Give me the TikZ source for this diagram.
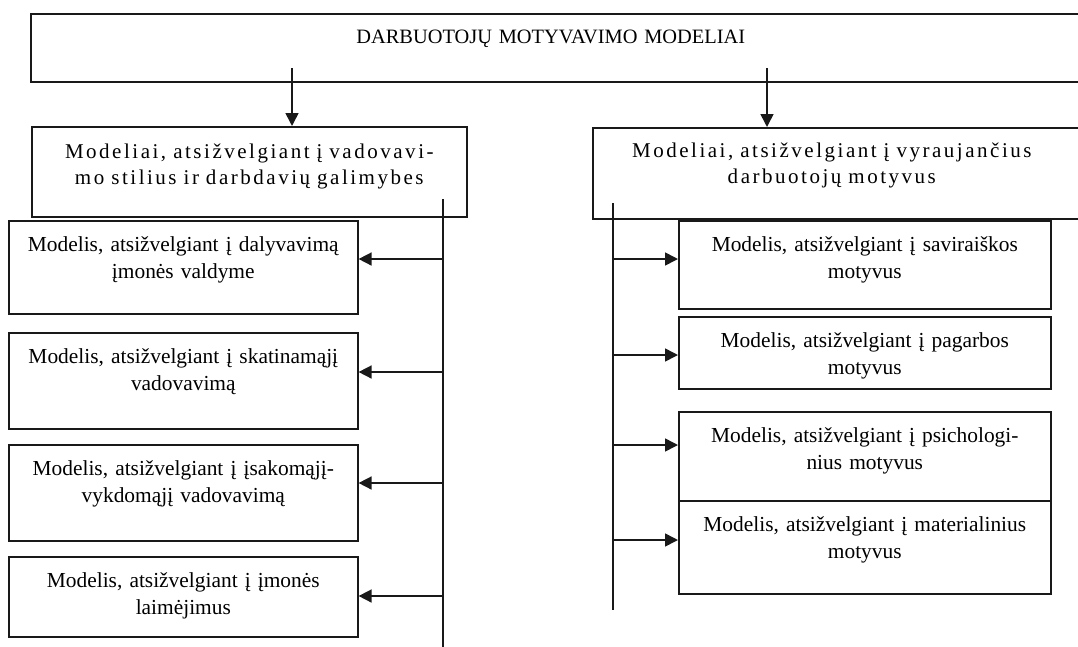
\documentclass[tikz,border=0pt]{standalone}
\usepackage{fontspec}
\setmainfont{Liberation Serif}
\usetikzlibrary{arrows.meta}
\begin{document}
\begin{tikzpicture}[x=1pt,y=-1pt,
  frame/.style={draw=black!90, line width=1.6pt, inner xsep=0pt, inner ysep=0pt,
    align=center, anchor=north west},
  kid/.style 2 args={frame, text width=#1, text height=31pt, text depth=#2,
    font=\fontsize{21.4}{27}\selectfont},
  group/.style n args={3}{frame, text width=#1, text height=#2, text depth=#3,
    font=\fontsize{21}{26}\selectfont\addfontfeatures{LetterSpace=12}},
  wire/.style={draw=black!90, line width=1.6pt},
  arr/.style={wire, -{Triangle[length=13pt,width=13pt]}}
]
\path[use as bounding box, clip] (0,0) rectangle (1078,646);

% title box (runs past the right border; text set a little left of centre)
\node[frame, text width=1060, text height=30pt, text depth=38pt,
  font=\fontsize{20.4}{24}\selectfont] (root) at (30,13)
  {\hspace*{-20pt}DARBUOTOJŲ MOTYVAVIMO MODELIAI};

% the two groups of models
\node[group={435}{32pt}{58pt}] (gL) at (31,126)
  {Modeliai, atsižvelgiant į vadovavi-\\mo stilius ir darbdavių galimybes};
\node[group={498}{30pt}{61pt}] (gR) at (592,127)
  {\hspace*{-20pt}Modeliai, atsižvelgiant į vyraujančius\\\hspace*{-20pt}darbuotojų motyvus};

\coordinate (dL) at (292,68);
\coordinate (dR) at (767,68);
\draw[arr] (dL) -- (dL |- gL.north);
\draw[arr] (dR) -- (dR |- gR.north);

% left column
\node[kid={349}{62pt}] (L1) at (8,220)
  {Modelis, atsižvelgiant į dalyvavimą\\įmonės valdyme};
\node[kid={349}{65pt}] (L2) at (8,332)
  {Modelis, atsižvelgiant į skatinamąjį\\vadovavimą};
\node[kid={349}{65pt}] (L3) at (8,444)
  {Modelis, atsižvelgiant į įsakomąjį-\\vykdomąjį vadovavimą};
\node[kid={349}{49pt}] (L4) at (8,556)
  {Modelis, atsižvelgiant į įmonės\\laimėjimus};

% right column
\node[kid={372}{57pt}] (R1) at (678,220)
  {Modelis, atsižvelgiant į saviraiškos\\motyvus};
\node[kid={372}{41pt}] (R2) at (678,316)
  {Modelis, atsižvelgiant į pagarbos\\motyvus};
\node[kid={372}{58pt}] (R3) at (678,411)
  {Modelis, atsižvelgiant į psichologi-\\nius motyvus};
\node[kid={372}{62pt}] (R4) at (678,500)
  {Modelis, atsižvelgiant į materialinius\\motyvus};

% left spine and its branches
\coordinate (sLt) at (443,199);
\coordinate (sLb) at (443,650);
\draw[wire] (sLt) -- (sLb);
\coordinate (bL1) at (443,259);
\coordinate (bL2) at (443,372);
\coordinate (bL3) at (443,483);
\coordinate (bL4) at (443,596);
\draw[arr] (bL1) -- (bL1 -| L1.east);
\draw[arr] (bL2) -- (bL2 -| L2.east);
\draw[arr] (bL3) -- (bL3 -| L3.east);
\draw[arr] (bL4) -- (bL4 -| L4.east);

% right spine and its branches
\coordinate (sRt) at (613,203);
\coordinate (sRb) at (613,610);
\draw[wire] (sRt) -- (sRb);
\coordinate (bR1) at (613,259);
\coordinate (bR2) at (613,355);
\coordinate (bR3) at (613,445);
\coordinate (bR4) at (613,540);
\draw[arr] (bR1) -- (bR1 -| R1.west);
\draw[arr] (bR2) -- (bR2 -| R2.west);
\draw[arr] (bR3) -- (bR3 -| R3.west);
\draw[arr] (bR4) -- (bR4 -| R4.west);
\end{tikzpicture}
\end{document}
